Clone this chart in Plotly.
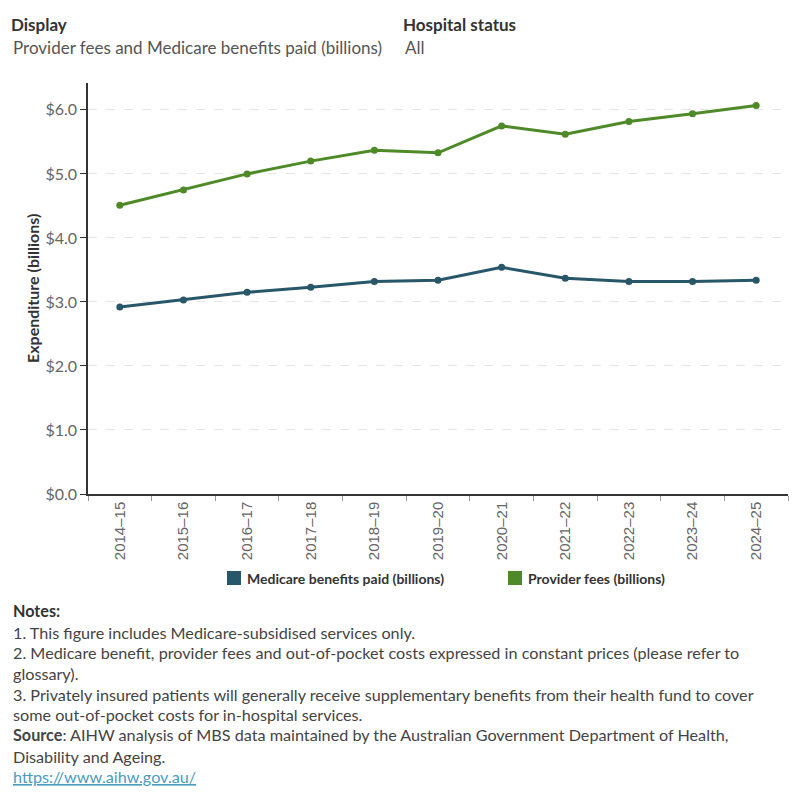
import plotly.graph_objects as go

years = ["2014–15", "2015–16", "2016–17", "2017–18", "2018–19", "2019–20",
         "2020–21", "2021–22", "2022–23", "2023–24", "2024–25"]
medicare_benefits = [2.92, 3.03, 3.15, 3.23, 3.32, 3.34, 3.54, 3.37, 3.32, 3.32, 3.34]
provider_fees = [4.51, 4.75, 5.00, 5.20, 5.37, 5.33, 5.75, 5.62, 5.82, 5.94, 6.07]
y_ticks = [0, 1, 2, 3, 4, 5, 6]
y_tick_labels = ["$0.0", "$1.0", "$2.0", "$3.0", "$4.0", "$5.0", "$6.0"]

BLUE = "#28576a"
GREEN = "#4e8a27"
FONT = "Lato"

# plot area in pixels
L, R, T, B = 88, 788, 83, 494
W, H = 800, 800


def px(x):
    return (x - L) / (R - L)


def py(y):
    return (B - y) / (B - T)


fig = go.Figure()
fig.add_trace(go.Scatter(x=years, y=medicare_benefits, mode="lines+markers",
                         name="Medicare benefits paid (billions)",
                         line=dict(color=BLUE, width=3),
                         marker=dict(color=BLUE, size=7), showlegend=False))
fig.add_trace(go.Scatter(x=years, y=provider_fees, mode="lines+markers",
                         name="Provider fees (billions)",
                         line=dict(color=GREEN, width=3),
                         marker=dict(color=GREEN, size=7), showlegend=False))

fig.update_layout(
    width=W, height=H,
    margin=dict(l=L, r=W - R, t=T, b=H - B, pad=0),
    paper_bgcolor="white", plot_bgcolor="white",
    font=dict(family=FONT, color="#333333"),
    xaxis=dict(
        range=[-0.5, 10.5], tickangle=-90, showline=True, linecolor="#333333",
        linewidth=1.5, ticks="outside", tickson="boundaries", ticklen=5,
        tickcolor="#999999", tickfont=dict(family="Liberation Sans", size=15, color="#666666"),
        showgrid=False, fixedrange=True,
    ),
    yaxis=dict(
        range=[0, 6.42], tickvals=y_ticks, ticktext=y_tick_labels,
        showline=True, linecolor="#333333", linewidth=1.5, ticks="outside",
        ticklen=6, tickcolor="#333333",
        tickfont=dict(family=FONT, size=16, color="#666666"),
        showgrid=True, gridcolor="#e6e6e6", griddash="dash", gridwidth=1,
        zeroline=False, fixedrange=True,
    ),
)

ann = []


def text(x, y, s, size=15, color="#333333", bold=False, angle=0, xanchor="left"):
    ann.append(dict(x=px(x), y=py(y), xref="paper", yref="paper", text=(f"<b>{s}</b>" if bold else s),
                    showarrow=False, xanchor=xanchor, yanchor="middle", textangle=angle,
                    font=dict(family=FONT, size=size, color=color)))


text(9, 24, "Display", size=17, color="#333333", bold=True)
text(11, 47, "Provider fees and Medicare benefits paid (billions)", size=17, color="#555555")
text(401, 24, "Hospital status", size=17, color="#333333", bold=True)
text(403, 47, "All", size=17, color="#555555")

# y-axis title
text(32, 289, "Expenditure (billions)", size=16, color="#333333", bold=True, angle=-90, xanchor="center")

# legend
shapes = []
for x0, col, label in [(227, BLUE, "Medicare benefits paid (billions)"), (508, GREEN, "Provider fees (billions)")]:
    shapes.append(dict(type="rect", xref="paper", yref="paper", x0=px(x0), x1=px(x0 + 14),
                       y0=py(585), y1=py(571), fillcolor=col, line=dict(width=0)))
    text(x0 + 18, 578, f"<b>{label}</b>", size=14, color="#333333")

notes = [
    (610, "<b>Notes:</b>", "#333333"),
    (632, "1. This figure includes Medicare-subsidised services only.", "#444444"),
    (652, "2. Medicare benefit, provider fees and out-of-pocket costs expressed in constant prices (please refer to", "#444444"),
    (673, "glossary).", "#444444"),
    (694, "3. Privately insured patients will generally receive supplementary benefits from their health fund to cover", "#444444"),
    (714, "some out-of-pocket costs for in-hospital services.", "#444444"),
    (735, "<b>Source</b>: AIHW analysis of MBS data maintained by the Australian Government Department of Health,", "#444444"),
    (756, "Disability and Ageing.", "#444444"),
    (776, "<u>https://www.aihw.gov.au/</u>", "#4a9cc0"),
]
for y, s, c in notes:
    text(11, y, s, size=16.2, color=c)

fig.update_layout(annotations=ann, shapes=shapes)
fig.write_html("out.html")
